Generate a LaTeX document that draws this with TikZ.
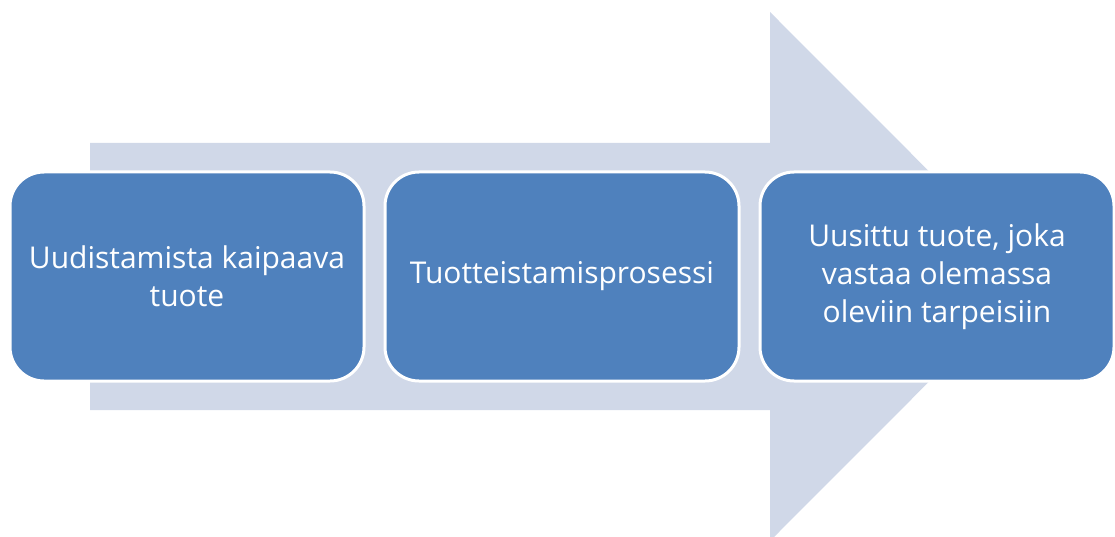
\documentclass[tikz,border=0pt]{standalone}
\usepackage{fontspec}
\setmainfont{Open Sans}
\definecolor{boxblue}{HTML}{4F81BD}
\definecolor{arrowgray}{HTML}{D0D8E8}
\begin{document}
\begin{tikzpicture}[x=1pt,y=-1pt,
  stepbox/.style={draw=white, line width=3pt, fill=boxblue, rounded corners=34pt,
    minimum width=354pt, minimum height=209pt, inner sep=0pt,
    align=center, text=white, font=\fontsize{30}{38}\selectfont}]
\useasboundingbox (0,0) rectangle (1115,537);
\fill[arrowgray] (90,143) -- (770,143) -- (770,12) -- (1034,276.5) -- (770,541) -- (770,410) -- (90,410) -- cycle;
\node[stepbox] (a) at (187,276.5) {Uudistamista kaipaava\\tuote};
\node[stepbox] (b) at (562,276.5) {Tuotteistamisprosessi};
\node[stepbox] (c) at (937,276.5) {Uusittu tuote, joka\\vastaa olemassa\\oleviin tarpeisiin};
\end{tikzpicture}
\end{document}
